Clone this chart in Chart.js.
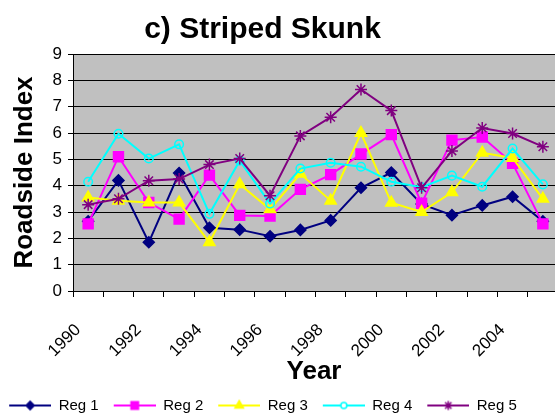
<!DOCTYPE html>
<html>
<head>
<meta charset="utf-8">
<script src="https://cdn.jsdelivr.net/npm/chart.js@4/dist/chart.umd.min.js"></script>
<style>
  html, body { margin: 0; padding: 0; background: #fff; overflow: hidden; }
  canvas { display: block; }
</style>
</head>
<body>
<canvas id="skunkChart" width="555" height="420"></canvas>
<script>
// Data (one point per year, drawn mid-year)
const years = [1990, 1991, 1992, 1993, 1994, 1995, 1996, 1997, 1998, 1999, 2000, 2001, 2002, 2003, 2004, 2005];
const labeledYears = [1990, 1992, 1994, 1996, 1998, 2000, 2002, 2004];
const seriesNames = ['Reg 1', 'Reg 2', 'Reg 3', 'Reg 4', 'Reg 5'];
const reg1 = [2.65, 4.2, 1.85, 4.48, 2.4, 2.33, 2.08, 2.32, 2.68, 3.92, 4.5, 3.3, 2.88, 3.25, 3.58, 2.65];
const reg2 = [2.55, 5.1, 3.36, 2.73, 4.4, 2.87, 2.85, 3.86, 4.42, 5.2, 5.94, 3.33, 5.73, 5.85, 4.85, 2.55];
const reg3 = [3.55, 3.43, 3.36, 3.36, 1.85, 4.05, 3.1, 4.45, 3.43, 6.0, 3.35, 3.0, 3.75, 5.25, 5.05, 3.5];
const reg4 = [4.15, 5.97, 5.03, 5.57, 2.93, 4.95, 3.32, 4.65, 4.87, 4.72, 4.15, 3.94, 4.38, 3.96, 5.41, 4.05];
const reg5 = [3.28, 3.5, 4.19, 4.25, 4.8, 5.03, 3.62, 5.89, 6.6, 7.65, 6.85, 3.92, 5.32, 6.19, 5.98, 5.48];

// Marker styles, Excel-like
const styles = [
    { color: '#000080', point: 'rectRot', radius: 5.5, fill: '#000080' },
    { color: '#FF00FF', point: 'rect', radius: 7, fill: '#FF00FF' },
    { color: '#FFFF00', point: 'triangle', radius: 6.5, fill: '#FFFF00' },
    { color: '#00FFFF', point: 'circle', radius: 4.3, fill: 'rgba(0,0,0,0)' },
    { color: '#800080', point: 'star', radius: 6, fill: '#800080' }
];

Chart.defaults.font.family = '"Liberation Sans", Arial, sans-serif';
Chart.defaults.color = '#000';

// Small canvas with line + marker, used as the legend symbol
function legendIcon(style) {
    const c = document.createElement('canvas');
    c.width = 49;
    c.height = 14;
    const g = c.getContext('2d');
    g.strokeStyle = style.color;
    g.lineWidth = 2;
    g.beginPath();
    g.moveTo(7, 7);
    g.lineTo(49, 7);
    g.stroke();
    g.fillStyle = style.point === 'circle' ? '#fff' : style.fill;
    g.lineWidth = 1.5;
    const r = style.point === 'circle' ? 3 : style.radius * 0.75;
    Chart.helpers.drawPoint(g, { pointStyle: style.point, radius: r, borderWidth: 1.5, rotation: 0 }, 28, 7);
    return c;
}

const allSeries = [reg1, reg2, reg3, reg4, reg5];
const datasets = allSeries.map((values, i) => ({
    label: seriesNames[i],
    data: years.map((yr, j) => ({ x: yr + 0.5, y: values[j] })),
    borderColor: styles[i].color,
    backgroundColor: styles[i].fill,
    borderWidth: 2,
    pointStyle: styles[i].point,
    pointRadius: styles[i].radius,
    pointBorderWidth: 1.5,
    pointBorderColor: styles[i].color,
    pointBackgroundColor: styles[i].fill,
    tension: 0,
    order: 4 - i // later regions drawn on top
}));
const icons = styles.map(legendIcon);

// Gray plot background
const plotBackground = {
    id: 'plotBackground',
    beforeDraw(chart) {
        const { ctx, chartArea: a } = chart;
        ctx.save();
        ctx.fillStyle = '#c0c0c0';
        ctx.fillRect(a.left, a.top, a.right - a.left, a.bottom - a.top);
        ctx.restore();
    }
};

// The original chart is clipped on the right; title and legend sit left of canvas centre
const shiftBlocks = {
    id: 'shiftBlocks',
    afterUpdate(chart) {
        const t = chart.titleBlock;
        t.left -= 15; t.right -= 15;
        const l = chart.legend;
        l.left -= 18; l.right -= 18;
        l.top += 3; l.bottom += 3;
    }
};

const PLOT_BOTTOM = 291;

new Chart(document.getElementById('skunkChart'), {
    type: 'line',
    data: { datasets: datasets },
    options: {
        responsive: false,
        animation: false,
        layout: { padding: 0, autoPadding: false },
        plugins: {
            title: {
                display: true,
                text: 'c) Striped Skunk',
                font: { size: 30, weight: 'bold' },
                color: '#000',
                padding: { top: 12, bottom: 6 }
            },
            legend: {
                position: 'bottom',
                labels: {
                    usePointStyle: true,
                    pointStyleWidth: 49,
                    padding: 8,
                    font: { size: 15 },
                    color: '#000',
                    generateLabels: (chart) => chart.data.datasets.map((ds, i) => ({
                        text: ds.label,
                        pointStyle: icons[i],
                        datasetIndex: i,
                        hidden: false,
                        fillStyle: ds.borderColor,
                        strokeStyle: ds.borderColor,
                        lineWidth: 0
                    }))
                }
            },
            tooltip: { enabled: false }
        },
        scales: {
            x: {
                type: 'linear',
                min: 1990,
                max: 2005.9,
                afterBuildTicks: (axis) => { axis.ticks = years.map(v => ({ value: v })); },
                afterFit: (scale) => {
                    scale.paddingLeft = 0;
                    scale.paddingRight = 0;
                    scale.height = scale.chart.height - scale.chart.legend.height - PLOT_BOTTOM;
                },
                ticks: {
                    autoSkip: false,
                    minRotation: 45,
                    maxRotation: 45,
                    padding: 23,
                    labelOffset: 5,
                    font: { size: 17 },
                    color: '#000',
                    callback: (v) => labeledYears.includes(v) ? String(v) : ''
                },
                grid: { drawOnChartArea: false, drawTicks: true, tickLength: 6, color: '#000' },
                border: { color: '#000', width: 1 },
                title: {
                    display: true,
                    text: 'Year',
                    font: { size: 26, weight: 'bold' },
                    color: '#000',
                    padding: { top: 4, bottom: 0 }
                }
            },
            y: {
                min: 0,
                max: 9,
                afterFit: (scale) => { scale.width = 73; },
                ticks: { stepSize: 1, padding: 6, font: { size: 17 }, color: '#000' },
                grid: { color: '#000', lineWidth: 1, tickLength: 5 },
                border: { color: '#000', width: 1 },
                title: {
                    display: true,
                    text: 'Roadside Index',
                    font: { size: 26, weight: 'bold' },
                    color: '#000',
                    padding: { top: 9, bottom: 4 }
                }
            }
        }
    },
    plugins: [plotBackground, shiftBlocks]
});
</script>
</body>
</html>
